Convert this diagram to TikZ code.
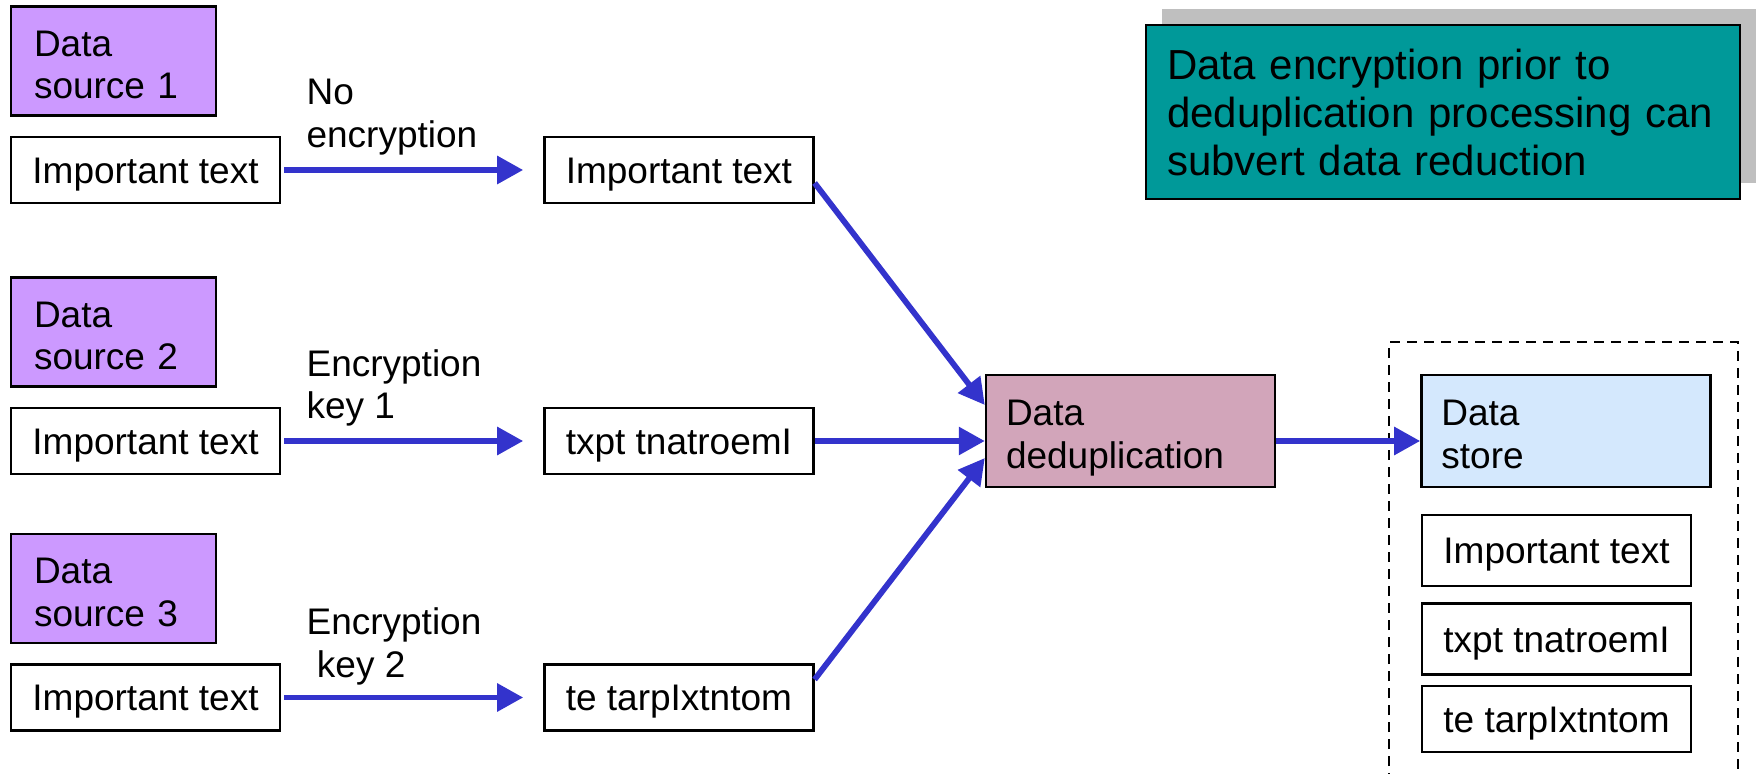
\documentclass[tikz,border=0pt]{standalone}
\usepackage{fontspec}
\setmainfont{Liberation Sans}
\usepackage{tikz}
\usetikzlibrary{arrows.meta, positioning, shadows}
\usepackage{xcolor}
\definecolor{srcpurple}{HTML}{CC99FF}
\definecolor{dedupmauve}{HTML}{D2A5BA}
\definecolor{storeblue}{HTML}{D4E8FD}
\definecolor{noteteal}{HTML}{009999}
\definecolor{shadowgray}{HTML}{BFBFBF}
\definecolor{arrowblue}{HTML}{3333CC}

\begin{document}
\begin{tikzpicture}[
  x=0.5pt, y=-0.5pt,
  node distance=6pt and 131pt,
  font=\fontsize{18.5}{21.3}\selectfont,
  source/.style={rectangle, draw, line width=1.2pt, fill=srcpurple, minimum height=54.5pt, text width=79.5pt, inner xsep=11.5pt, align=left, text height=16.5pt, text depth=21.5pt},
  textbox/.style={rectangle, draw, line width=1.2pt, fill=white, minimum width=134.5pt, minimum height=33pt, align=center, text height=13.3pt, text depth=0pt},
  process/.style={rectangle, draw, line width=1.2pt, minimum height=56pt, text width=124.5pt, inner xsep=10pt, align=left, text height=16pt, text depth=21.5pt},
  note/.style={rectangle, draw, line width=1.2pt, fill=noteteal, minimum height=87pt, text width=276pt, inner xsep=10.5pt, align=left,
    font=\fontsize{21}{24}\selectfont, drop shadow={shadow xshift=8pt, shadow yshift=8pt, fill=shadowgray, opacity=1}},
  lbl/.style={inner sep=0pt, align=left, anchor=west},
  frame/.style={dashed, dash pattern=on 5pt off 3.5pt, line width=1.1pt},
  arrow/.style={-{Triangle[length=13pt, width=13.5pt]}, line width=2.9pt, arrowblue}
]
\useasboundingbox (0,0) rectangle (1756,774);

\node[textbox] (plain1) at (145.5,170) {Important text};
\node[textbox] (plain2) at (145.5,441) {Important text};
\node[textbox] (plain3) at (145.5,697.5) {Important text};
\node[source, above=9.5pt of plain1.north west, anchor=south west] (src1) {Data\\source 1};
\node[source, above=9.5pt of plain2.north west, anchor=south west] (src2) {Data\\source 2};
\node[source, above=9.5pt of plain3.north west, anchor=south west] (src3) {Data\\source 3};

\node[textbox, right=of plain1] (enc1) {Important text};
\node[textbox, right=of plain2] (enc2) {txpt tnatroemI};
\node[textbox, right=of plain3] (enc3) {te tarpIxtntom};

\node[lbl] (nokey) at ([xshift=12.5pt, yshift=26.5pt]plain1.east) {No\\encryption};
\node[lbl] (key1) at ([xshift=12.5pt, yshift=26.5pt]plain2.east) {Encryption\\key 1};
\node[lbl] (key2) at ([xshift=12.5pt, yshift=25.5pt]plain3.east) {Encryption\\\hspace{0.28em}key 2};

\node[process, fill=dedupmauve] (dedup) at (1130.5,431) {Data\\deduplication};
\node[process, fill=storeblue, right=72pt of dedup] (store) {Data\\store};
\node[textbox, minimum height=35.5pt] (kept1) at (1556.5,550.5) {Important text};
\node[textbox, minimum height=35.5pt, below=7.5pt of kept1] (kept2) {txpt tnatroemI};
\node[textbox, below=4.5pt of kept2] (kept3) {te tarpIxtntom};

\node[note] (warn) at (1443,112) {Data encryption prior to\\deduplication processing can\\subvert data reduction};

\coordinate (frameTL) at (1389,342);
\coordinate (frameBR) at (1738,800);
\draw[frame] (frameTL |- frameBR) |- (frameBR |- frameTL) -- (frameBR);

\draw[arrow, shorten <=1.5pt, shorten >=10pt] (plain1) -- (enc1);
\draw[arrow, shorten <=1.5pt, shorten >=10pt] (plain2) -- (enc2);
\draw[arrow, shorten <=1.5pt, shorten >=10pt] (plain3) -- (enc3);
\draw[arrow] ([yshift=-6.5pt]enc1.east) -- ([yshift=13pt]dedup.west);
\draw[arrow] (enc2.east) -- (enc2.east -| dedup.west);
\draw[arrow] ([yshift=9pt]enc3.east) -- ([yshift=-13.5pt]dedup.west);
\draw[arrow] (dedup.east |- enc2.east) -- (store.west |- enc2.east);

\end{tikzpicture}
\end{document}
